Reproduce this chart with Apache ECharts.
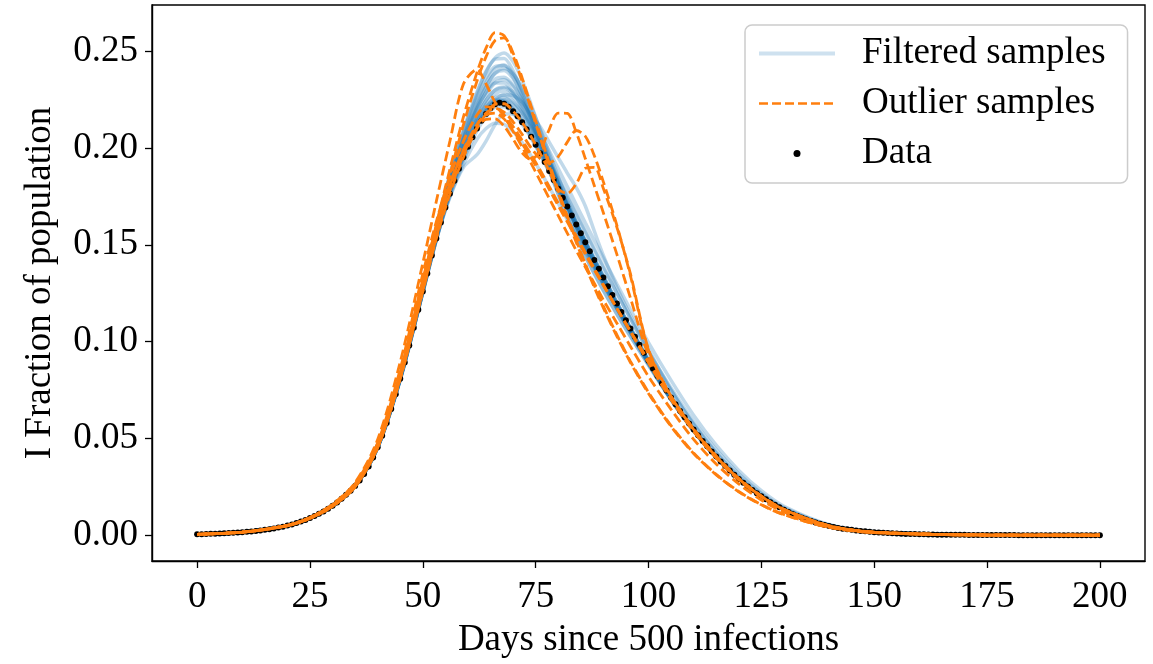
<!DOCTYPE html>
<html>
<head>
<meta charset="utf-8">
<script src="https://cdn.jsdelivr.net/npm/echarts@6/dist/echarts.min.js"></script>
<style>
html,body{margin:0;padding:0;background:#fff;}
#chart{width:1153px;height:664px;}
</style>
</head>
<body>
<div id="chart"></div>
<script>
// ---- x values ----
const days = [0,1,2,3,4,5,6,7,8,9,10,11,12,13,14,15,16,17,18,19,20,21,22,23,24,25,26,27,28,29,30,31,32,33,34,35,36,37,38,39,40,41,42,43,44,45,46,47,48,49,50,51,52,53,54,55,56,57,58,59,60,61,62,63,64,65,66,67,68,69,70,71,72,73,74,75,76,77,78,79,80,81,82,83,84,85,86,87,88,89,90,91,92,93,94,95,96,97,98,99,100,101,102,103,104,105,106,107,108,109,110,111,112,113,114,115,116,117,118,119,120,121,122,123,124,125,126,127,128,129,130,131,132,133,134,135,136,137,138,139,140,141,142,143,144,145,146,147,148,149,150,151,152,153,154,155,156,157,158,159,160,161,162,163,164,165,166,167,168,169,170,171,172,173,174,175,176,177,178,179,180,181,182,183,184,185,186,187,188,189,190,191,192,193,194,195,196,197,198,199,200];

// ---- observed data (I fraction) ----
const dataI = [
0.00050,0.00056,0.00063,0.00071,0.00079,0.00089,0.00099,0.00112,0.00125,0.00141,
0.00158,0.00177,0.00198,0.00222,0.00250,0.00280,0.00315,0.00353,0.00396,0.00444,
0.00499,0.00559,0.00627,0.00704,0.00790,0.00886,0.00994,0.0111,0.0123,0.0137,
0.0152,0.0169,0.0188,0.0209,0.0230,0.0254,0.0283,0.0316,0.0355,0.0402,
0.0455,0.0514,0.0580,0.0652,0.0728,0.0808,0.0892,0.0980,0.1071,0.1164,
0.1258,0.1352,0.1444,0.1532,0.1615,0.1692,0.1763,0.1830,0.1893,0.1952,
0.2006,0.2055,0.2100,0.2140,0.2175,0.2205,0.2225,0.2233,0.2228,0.2212,
0.2190,0.2163,0.2132,0.2097,0.2058,0.2016,0.1972,0.1927,0.1881,0.1835,
0.1789,0.1743,0.1697,0.1651,0.1605,0.1559,0.1513,0.1467,0.1421,0.1376,
0.1331,0.1286,0.1241,0.1197,0.1153,0.1110,0.1067,0.1025,0.0983,0.0942,
0.0901,0.0861,0.0822,0.0784,0.0747,0.0711,0.0676,0.0642,0.0609,0.0577,
0.0546,0.0516,0.0487,0.0459,0.0432,0.0406,0.0381,0.0357,0.0334,0.0312,
0.0291,0.0271,0.0252,0.0234,0.0217,0.0201,0.0186,0.0171,0.0157,0.0144,
0.0132,0.0120,0.0109,0.0099,0.0090,0.0081,0.0073,0.0066,0.0059,0.0053,
0.0048,0.0043,0.0038,0.0034,0.0031,0.0028,0.0025,0.0022,0.0020,0.0018,
0.0016,0.0014,0.0013,0.0011,0.0010,0.0009,0.0008,0.0007,0.0007,0.0006,
0.0005,0.0005,0.0004,0.0004,0.0003,0.0003,0.0003,0.0002,0.0002,0.0002,
0.0002,0.0001,0.0001,0.0001,0.0001,0.0001,0.0001,0.0001,0.0001,0.0001,
0.0001,0.0001,0,0,0,0,0,0,0,0,
0,0,0,0,0,0,0,0,0,0,0];

// ---- sample day grid ----
const sampleDays = [0,10,20,25,30,35,40,45,50,53,56,59,62,64,66,68,70,72,74,76,78,80,82,84,86,88,90,93,96,100,105,110,115,120,125,130,140,150,175,200];

// ---- filtered samples ----
const filtered01 = [0.0005,0.0016,0.0050,0.0089,0.0153,0.0256,0.0458,0.0818,0.1285,0.1580,0.1850,0.2080,0.2280,0.2390,0.2465,0.2490,0.2445,0.2350,0.2225,0.2090,0.1955,0.1825,0.1705,0.1592,0.1487,0.1389,0.1298,0.1170,0.1045,0.0885,0.0700,0.0538,0.0402,0.0290,0.0201,0.0133,0.0049,0.0016,0.0001,0];
const filtered02 = [0.0005,0.0016,0.0050,0.0089,0.0152,0.0255,0.0457,0.0815,0.1278,0.1568,0.1832,0.2055,0.2240,0.2340,0.2410,0.2428,0.2385,0.2298,0.2185,0.2062,0.1938,0.1815,0.1698,0.1588,0.1485,0.1389,0.1299,0.1172,0.1048,0.0888,0.0702,0.0540,0.0403,0.0290,0.0201,0.0133,0.0049,0.0016,0.0001,0];
const filtered03 = [0.0005,0.0016,0.0050,0.0089,0.0152,0.0255,0.0456,0.0812,0.1272,0.1556,0.1815,0.2030,0.2200,0.2290,0.2355,0.2365,0.2325,0.2250,0.2152,0.2040,0.1925,0.1810,0.1698,0.1590,0.1488,0.1393,0.1303,0.1176,0.1051,0.0890,0.0704,0.0541,0.0404,0.0291,0.0201,0.0133,0.0049,0.0016,0.0001,0];
const filtered04 = [0.0005,0.0016,0.0050,0.0089,0.0152,0.0254,0.0455,0.0810,0.1266,0.1546,0.1800,0.2005,0.2165,0.2245,0.2298,0.2310,0.2280,0.2218,0.2132,0.2030,0.1922,0.1812,0.1703,0.1598,0.1498,0.1403,0.1312,0.1182,0.1056,0.0893,0.0706,0.0543,0.0405,0.0291,0.0201,0.0133,0.0049,0.0016,0.0001,0];
const filtered05 = [0.0005,0.0016,0.0050,0.0089,0.0152,0.0254,0.0455,0.0809,0.1262,0.1540,0.1785,0.1980,0.2135,0.2210,0.2260,0.2272,0.2240,0.2182,0.2104,0.2012,0.1914,0.1814,0.1714,0.1615,0.1518,0.1423,0.1330,0.1194,0.1063,0.0896,0.0707,0.0544,0.0405,0.0291,0.0201,0.0133,0.0049,0.0016,0.0001,0];
const filtered06 = [0.0005,0.0016,0.0050,0.0088,0.0150,0.0251,0.0450,0.0800,0.1250,0.1525,0.1770,0.1970,0.2125,0.2200,0.2250,0.2275,0.2270,0.2235,0.2170,0.2110,0.2030,0.1950,0.1870,0.1795,0.1700,0.1570,0.1445,0.1280,0.1135,0.0960,0.0750,0.0570,0.0422,0.0300,0.0206,0.0135,0.0050,0.0016,0.0001,0];
const filtered07 = [0.0005,0.0016,0.0050,0.0089,0.0152,0.0255,0.0457,0.0812,0.1262,0.1530,0.1750,0.1915,0.2045,0.2100,0.2128,0.2122,0.2085,0.2028,0.1958,0.1880,0.1798,0.1714,0.1630,0.1546,0.1462,0.1380,0.1298,0.1177,0.1057,0.0898,0.0712,0.0548,0.0408,0.0293,0.0202,0.0133,0.0049,0.0016,0.0001,0];
const filtered08 = [0.0005,0.0016,0.0050,0.0089,0.0152,0.0254,0.0455,0.0808,0.1255,0.1525,0.1745,0.1900,0.1965,0.2035,0.2120,0.2175,0.2175,0.2135,0.2068,0.1985,0.1895,0.1802,0.1709,0.1615,0.1521,0.1428,0.1337,0.1201,0.1070,0.0903,0.0712,0.0547,0.0407,0.0292,0.0202,0.0133,0.0049,0.0016,0.0001,0];
const filtered09 = [0.0005,0.0016,0.0051,0.0091,0.0156,0.0262,0.0470,0.0838,0.1300,0.1578,0.1815,0.2005,0.2148,0.2212,0.2248,0.2240,0.2198,0.2135,0.2056,0.1968,0.1876,0.1783,0.1690,0.1597,0.1505,0.1414,0.1324,0.1190,0.1060,0.0894,0.0705,0.0542,0.0404,0.0290,0.0200,0.0132,0.0048,0.0016,0.0001,0];
const filtered10 = [0.0005,0.0016,0.0049,0.0088,0.0150,0.0252,0.0451,0.0803,0.1258,0.1545,0.1810,0.2035,0.2215,0.2315,0.2385,0.2410,0.2382,0.2312,0.2212,0.2098,0.1975,0.1852,0.1732,0.1617,0.1510,0.1410,0.1316,0.1186,0.1060,0.0898,0.0710,0.0546,0.0407,0.0292,0.0202,0.0133,0.0049,0.0016,0.0001,0];
const filtered11 = [0.0005,0.0016,0.0050,0.0089,0.0153,0.0257,0.0460,0.0822,0.1290,0.1590,0.1865,0.2095,0.2290,0.2395,0.2458,0.2462,0.2398,0.2290,0.2160,0.2022,0.1888,0.1762,0.1646,0.1540,0.1441,0.1349,0.1263,0.1141,0.1026,0.0878,0.0698,0.0538,0.0402,0.0290,0.0201,0.0133,0.0049,0.0016,0.0001,0];
const filtered12 = [0.0005,0.0016,0.0050,0.0088,0.0151,0.0252,0.0452,0.0805,0.1255,0.1530,0.1765,0.1950,0.2110,0.2190,0.2240,0.2250,0.2222,0.2170,0.2100,0.2018,0.1930,0.1840,0.1748,0.1656,0.1564,0.1472,0.1380,0.1248,0.1118,0.0950,0.0760,0.0588,0.0442,0.0318,0.0218,0.0143,0.0053,0.0018,0.0001,0];
const filtered13 = [0.0005,0.0016,0.0050,0.0090,0.0154,0.0258,0.0462,0.0825,0.1292,0.1580,0.1835,0.2045,0.2205,0.2285,0.2335,0.2335,0.2285,0.2205,0.2108,0.2002,0.1893,0.1784,0.1677,0.1574,0.1476,0.1383,0.1295,0.1170,0.1047,0.0888,0.0703,0.0540,0.0403,0.0290,0.0200,0.0132,0.0048,0.0016,0.0001,0];
const filtered14 = [0.0005,0.0016,0.0050,0.0089,0.0152,0.0254,0.0455,0.0808,0.1260,0.1540,0.1790,0.1995,0.2160,0.2245,0.2300,0.2315,0.2290,0.2235,0.2160,0.2075,0.1985,0.1893,0.1800,0.1707,0.1614,0.1522,0.1431,0.1297,0.1165,0.0995,0.0800,0.0620,0.0465,0.0335,0.0230,0.0150,0.0056,0.0019,0.0001,0];
const filtered15 = [0.0005,0.0016,0.0050,0.0089,0.0152,0.0254,0.0455,0.0809,0.1260,0.1535,0.1770,0.1955,0.2112,0.2188,0.2238,0.2242,0.2205,0.2146,0.2071,0.1984,0.1892,0.1799,0.1706,0.1613,0.1520,0.1428,0.1337,0.1202,0.1071,0.0904,0.0713,0.0547,0.0407,0.0292,0.0202,0.0133,0.0049,0.0016,0.0001,0];
const filtered16 = [0.0005,0.0016,0.0050,0.0089,0.0152,0.0255,0.0457,0.0814,0.1276,0.1564,0.1826,0.2045,0.2225,0.2320,0.2385,0.2400,0.2358,0.2276,0.2170,0.2052,0.1932,0.1812,0.1697,0.1588,0.1486,0.1391,0.1301,0.1174,0.1050,0.0889,0.0703,0.0541,0.0404,0.0291,0.0201,0.0133,0.0049,0.0016,0.0001,0];
const filtered17 = [0.0005,0.0016,0.0050,0.0090,0.0154,0.0258,0.0462,0.0820,0.1272,0.1545,0.1775,0.1960,0.2112,0.2188,0.2235,0.2240,0.2200,0.2140,0.2064,0.1977,0.1886,0.1794,0.1701,0.1608,0.1515,0.1423,0.1333,0.1199,0.1069,0.0902,0.0712,0.0547,0.0407,0.0292,0.0202,0.0133,0.0049,0.0016,0.0001,0];
const filtered18 = [0.0005,0.0016,0.0050,0.0089,0.0152,0.0254,0.0455,0.0810,0.1264,0.1543,0.1790,0.1990,0.2148,0.2225,0.2278,0.2292,0.2262,0.2202,0.2122,0.2026,0.1925,0.1821,0.1716,0.1613,0.1513,0.1416,0.1323,0.1189,0.1060,0.0895,0.0707,0.0544,0.0405,0.0291,0.0201,0.0133,0.0049,0.0016,0.0001,0];
const filtered19 = [0.0005,0.0016,0.0050,0.0089,0.0152,0.0254,0.0455,0.0806,0.1254,0.1526,0.1755,0.1935,0.2088,0.2162,0.2210,0.2213,0.2178,0.2122,0.2050,0.1966,0.1877,0.1787,0.1696,0.1605,0.1514,0.1424,0.1335,0.1201,0.1071,0.0904,0.0713,0.0548,0.0407,0.0292,0.0202,0.0133,0.0049,0.0016,0.0001,0];
const filtered20 = [0.0005,0.0016,0.0050,0.0089,0.0152,0.0255,0.0456,0.0812,0.1270,0.1553,0.1810,0.2020,0.2185,0.2272,0.2335,0.2352,0.2318,0.2245,0.2148,0.2038,0.1925,0.1812,0.1702,0.1597,0.1497,0.1402,0.1311,0.1181,0.1055,0.0892,0.0705,0.0542,0.0404,0.0291,0.0201,0.0133,0.0049,0.0016,0.0001,0];
const filtered21 = [0.0005,0.0016,0.0050,0.0089,0.0151,0.0253,0.0453,0.0805,0.1255,0.1530,0.1765,0.1955,0.2115,0.2192,0.2243,0.2258,0.2232,0.2182,0.2112,0.2030,0.1942,0.1851,0.1759,0.1666,0.1573,0.1480,0.1388,0.1252,0.1119,0.0946,0.0748,0.0575,0.0428,0.0307,0.0212,0.0139,0.0051,0.0017,0.0001,0];
const filtered22 = [0.0005,0.0016,0.0050,0.0090,0.0154,0.0259,0.0465,0.0830,0.1298,0.1590,0.1860,0.2085,0.2265,0.2360,0.2420,0.2425,0.2365,0.2265,0.2145,0.2015,0.1885,0.1760,0.1645,0.1540,0.1442,0.1350,0.1264,0.1142,0.1027,0.0879,0.0699,0.0539,0.0402,0.0290,0.0201,0.0133,0.0049,0.0016,0.0001,0];

// ---- outlier samples ----
const outlier01 = [0.0005,0.0016,0.0049,0.0087,0.0149,0.0250,0.0455,0.0825,0.1305,0.1605,0.1890,0.2160,0.2390,0.2515,0.2595,0.2580,0.2475,0.2345,0.2200,0.2053,0.1908,0.1768,0.1637,0.1512,0.1393,0.1280,0.1174,0.1027,0.0892,0.0732,0.0562,0.0422,0.0312,0.0224,0.0157,0.0106,0.0041,0.0014,0.0001,0];
const outlier02 = [0.0005,0.0016,0.0049,0.0087,0.0149,0.0250,0.0452,0.0815,0.1285,0.1580,0.1860,0.2120,0.2345,0.2470,0.2555,0.2568,0.2490,0.2362,0.2215,0.2068,0.1922,0.1780,0.1648,0.1522,0.1402,0.1290,0.1183,0.1035,0.0898,0.0738,0.0566,0.0425,0.0314,0.0226,0.0158,0.0107,0.0041,0.0014,0.0001,0];
const outlier03 = [0.0005,0.0016,0.0051,0.0092,0.0160,0.0272,0.0495,0.0895,0.1405,0.1725,0.2035,0.2330,0.2405,0.2330,0.2235,0.2160,0.2092,0.2022,0.1948,0.1870,0.1786,0.1702,0.1618,0.1534,0.1451,0.1369,0.1289,0.1171,0.1055,0.0902,0.0715,0.0550,0.0410,0.0294,0.0203,0.0134,0.0049,0.0016,0.0001,0];
const outlier04 = [0.0005,0.0016,0.0050,0.0089,0.0152,0.0256,0.0460,0.0828,0.1298,0.1572,0.1805,0.1985,0.2105,0.2148,0.2150,0.2112,0.2045,0.1975,0.1940,0.1985,0.2095,0.2180,0.2178,0.2080,0.1945,0.1805,0.1665,0.1450,0.1225,0.0930,0.0705,0.0540,0.0402,0.0290,0.0200,0.0132,0.0048,0.0016,0.0001,0];
const outlier05 = [0.0005,0.0016,0.0050,0.0089,0.0152,0.0254,0.0455,0.0810,0.1262,0.1540,0.1778,0.1965,0.2118,0.2180,0.2205,0.2185,0.2135,0.2070,0.2000,0.1945,0.1925,0.1955,0.2030,0.2090,0.2060,0.1960,0.1825,0.1600,0.1340,0.0955,0.0715,0.0545,0.0404,0.0291,0.0201,0.0133,0.0049,0.0016,0.0001,0];
const outlier06 = [0.0005,0.0016,0.0050,0.0089,0.0152,0.0254,0.0455,0.0808,0.1258,0.1532,0.1763,0.1952,0.2100,0.2175,0.2225,0.2228,0.2190,0.2132,0.2058,0.1972,0.1881,0.1789,0.1765,0.1815,0.1895,0.1900,0.1790,0.1590,0.1350,0.0960,0.0718,0.0546,0.0405,0.0291,0.0201,0.0133,0.0049,0.0016,0.0001,0];
const outlier07 = [0.0005,0.0016,0.0051,0.0091,0.0155,0.0260,0.0468,0.0840,0.1320,0.1590,0.1815,0.1990,0.2120,0.2170,0.2180,0.2150,0.2085,0.2005,0.1920,0.1830,0.1740,0.1650,0.1560,0.1470,0.1385,0.1300,0.1215,0.1095,0.0975,0.0820,0.0650,0.0495,0.0368,0.0265,0.0182,0.0120,0.0045,0.0015,0.0001,0];
const outlier08 = [0.0005,0.0016,0.0051,0.0092,0.0158,0.0266,0.0478,0.0858,0.1350,0.1620,0.1850,0.2035,0.2170,0.2212,0.2210,0.2170,0.2110,0.2040,0.1965,0.1885,0.1800,0.1715,0.1630,0.1545,0.1460,0.1378,0.1295,0.1172,0.1050,0.0890,0.0700,0.0536,0.0398,0.0286,0.0198,0.0131,0.0048,0.0016,0.0001,0];

// ---- ticks ----
const xTicks = [0,25,50,75,100,125,150,175,200];
const yTicks = [0,0.05,0.10,0.15,0.20,0.25];

const filteredList = [filtered01,filtered02,filtered03,filtered04,filtered05,filtered06,filtered07,filtered08,filtered09,filtered10,filtered11,filtered12,filtered13,filtered14,filtered15,filtered16,filtered17,filtered18,filtered19,filtered20,filtered21,filtered22];
const outlierList = [outlier01,outlier02,outlier03,outlier04,outlier05,outlier06,outlier07,outlier08];

const FONT = 'Liberation Serif';
const FS = 37;

function pairs(xs, ys){ return xs.map((x,i)=>[x, ys[i]]); }

const series = [];
filteredList.forEach(arr => {
  series.push({
    name: 'Filtered samples', type: 'line', data: pairs(sampleDays, arr),
    symbol: 'none', smooth: 0.3, z: 2, silent: true,
    lineStyle: { color: '#1f77b4', width: 3.5, opacity: 0.28 },
    itemStyle: { color: '#1f77b4', opacity: 0 },
    emphasis: { disabled: true }
  });
});
series.push({
  name: 'Data', type: 'scatter', data: pairs(days, dataI),
  symbol: 'circle', symbolSize: 6, z: 3, silent: true,
  itemStyle: { color: '#000', opacity: 1 }, emphasis: { disabled: true }
});
outlierList.forEach((arr, k) => {
  series.push({
    name: 'Outlier samples', type: 'line', data: pairs(sampleDays, arr),
    symbol: 'none', smooth: 0.3, z: 4, silent: true,
    lineStyle: { color: '#ff7f0e', width: 2.8, type: [10, 4.5], dashOffset: (k % 2) * 7 },
    itemStyle: { color: '#ff7f0e', opacity: 0 },
    emphasis: { disabled: true }
  });
});

const chart = echarts.init(document.getElementById('chart'), null, { renderer: 'canvas' });
chart.setOption({
  animation: false,
  backgroundColor: '#fff',
  textStyle: { fontFamily: FONT },
  grid: { left: 152, top: 5, width: 993, height: 560, show: true, borderColor: '#000', borderWidth: 1.4, backgroundColor: 'transparent' },
  legend: {
    data: [
      { name: 'Filtered samples', itemStyle: { opacity: 0 }, lineStyle: { color: '#1f77b4', opacity: 0.22, width: 4 } },
      { name: 'Outlier samples', itemStyle: { opacity: 0 }, lineStyle: { color: '#ff7f0e', width: 2.4, type: [9, 4] } },
      { name: 'Data', itemStyle: { color: '#000', opacity: 1 } }
    ],
    orient: 'vertical', left: 745, top: 25,
    padding: [10, 22, 11, 12],
    itemWidth: 76, itemHeight: 7, itemGap: 13,
    backgroundColor: 'rgba(255,255,255,0.85)', borderColor: '#cccccc', borderWidth: 1.5, borderRadius: 7,
    textStyle: { fontFamily: FONT, fontSize: FS, color: '#000', lineHeight: 37, padding: [0, 0, 0, 22] },
    selectedMode: false
  },
  xAxis: {
    type: 'value', min: -10, max: 210,
    name: 'Days since 500 infections', nameLocation: 'middle', nameGap: 61,
    nameTextStyle: { fontFamily: FONT, fontSize: FS, color: '#000' },
    axisLine: { show: true, onZero: false, lineStyle: { color: '#000', width: 1.4 } },
    axisTick: { show: true, customValues: xTicks, length: 7, lineStyle: { color: '#000', width: 1.3 } },
    axisLabel: { customValues: xTicks, fontFamily: FONT, fontSize: FS, color: '#000', margin: 18 },
    splitLine: { show: false }
  },
  yAxis: {
    type: 'value', min: -0.0133, max: 0.2738,
    name: 'I Fraction of population', nameLocation: 'middle', nameGap: 93,
    nameTextStyle: { fontFamily: FONT, fontSize: FS, color: '#000' },
    axisLine: { show: true, onZero: false, lineStyle: { color: '#000', width: 1.4 } },
    axisTick: { show: true, customValues: yTicks, length: 7, lineStyle: { color: '#000', width: 1.3 } },
    axisLabel: { customValues: yTicks, fontFamily: FONT, fontSize: FS, color: '#000', margin: 14, formatter: v => v.toFixed(2) },
    splitLine: { show: false }
  },
  series: series
});
</script>
</body>
</html>
